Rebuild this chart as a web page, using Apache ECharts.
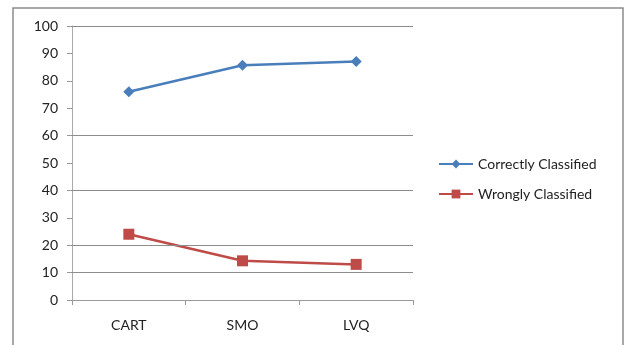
<!DOCTYPE html>
<html>
<head>
  <meta charset="UTF-8">
  <title>Classification results</title>
  <script src="https://cdn.jsdelivr.net/npm/echarts@6.0.0/dist/echarts.min.js"></script>
  <style>
    body { margin: 0; background: #fff; }
    #chart { width: 626px; height: 345px; }
  </style>
</head>
<body>
  <div id="chart"></div>
  <script>
    // data
    const algorithms = ['CART', 'SMO', 'LVQ'];
    const correctly = [76, 85.7, 87];
    const wrongly = [24, 14.3, 13];
    const yTicks = [0, 10, 20, 30, 40, 50, 60, 70, 80, 90, 100];
    // only these grid lines survive in the reference
    const gridValues = [100, 60, 40, 20, 10];

    const font = 'Lato, "Open Sans", sans-serif';
    const chart = echarts.init(document.getElementById('chart'));

    chart.setOption({
      animation: false,
      graphic: [{
        type: 'rect',
        shape: { x: 13, y: 8, width: 610, height: 345 },
        style: { fill: 'none', stroke: '#8c8c8c', lineWidth: 1.5 },
        silent: true
      }],
      grid: { left: 72, right: 213, top: 26, bottom: 45 },
      legend: {
        orient: 'vertical',
        left: 433,
        top: 152,
        itemGap: 16,
        itemWidth: 34,
        itemHeight: 11,
        textStyle: { fontFamily: font, fontSize: 14, color: '#222' },
        data: ['Correctly Classified', 'Wrongly Classified']
      },
      xAxis: {
        type: 'category',
        data: algorithms,
        boundaryGap: true,
        axisLine: { lineStyle: { color: '#999', width: 1 } },
        axisTick: { show: true, length: 5, lineStyle: { color: '#999' } },
        axisLabel: { fontFamily: font, fontSize: 14, color: '#222', margin: 18 },
        splitLine: { show: false }
      },
      yAxis: {
        type: 'value',
        min: yTicks[0],
        max: yTicks[yTicks.length - 1],
        interval: 10,
        axisLine: { show: true, lineStyle: { color: '#aaa', width: 1 } },
        axisTick: { show: true, length: 5, lineStyle: { color: '#999' } },
        axisLabel: { fontFamily: font, fontSize: 14, color: '#222', margin: 14 },
        splitLine: { show: false }
      },
      series: [
        {
          name: 'Correctly Classified',
          type: 'line',
          data: correctly,
          symbol: 'diamond',
          symbolSize: 11,
          color: '#4a7ebb',
          lineStyle: { width: 2.5, color: '#4a7ebb' },
          markLine: {
            silent: true,
            symbol: 'none',
            label: { show: false },
            lineStyle: { color: '#8c8c8c', type: 'solid', width: 1 },
            data: gridValues.map(v => ({ yAxis: v }))
          },
          z: 3
        },
        {
          name: 'Wrongly Classified',
          type: 'line',
          data: wrongly,
          symbol: 'rect',
          symbolSize: 11,
          color: '#be4b48',
          lineStyle: { width: 2.5, color: '#be4b48' },
          z: 3
        }
      ]
    });
  </script>
</body>
</html>
